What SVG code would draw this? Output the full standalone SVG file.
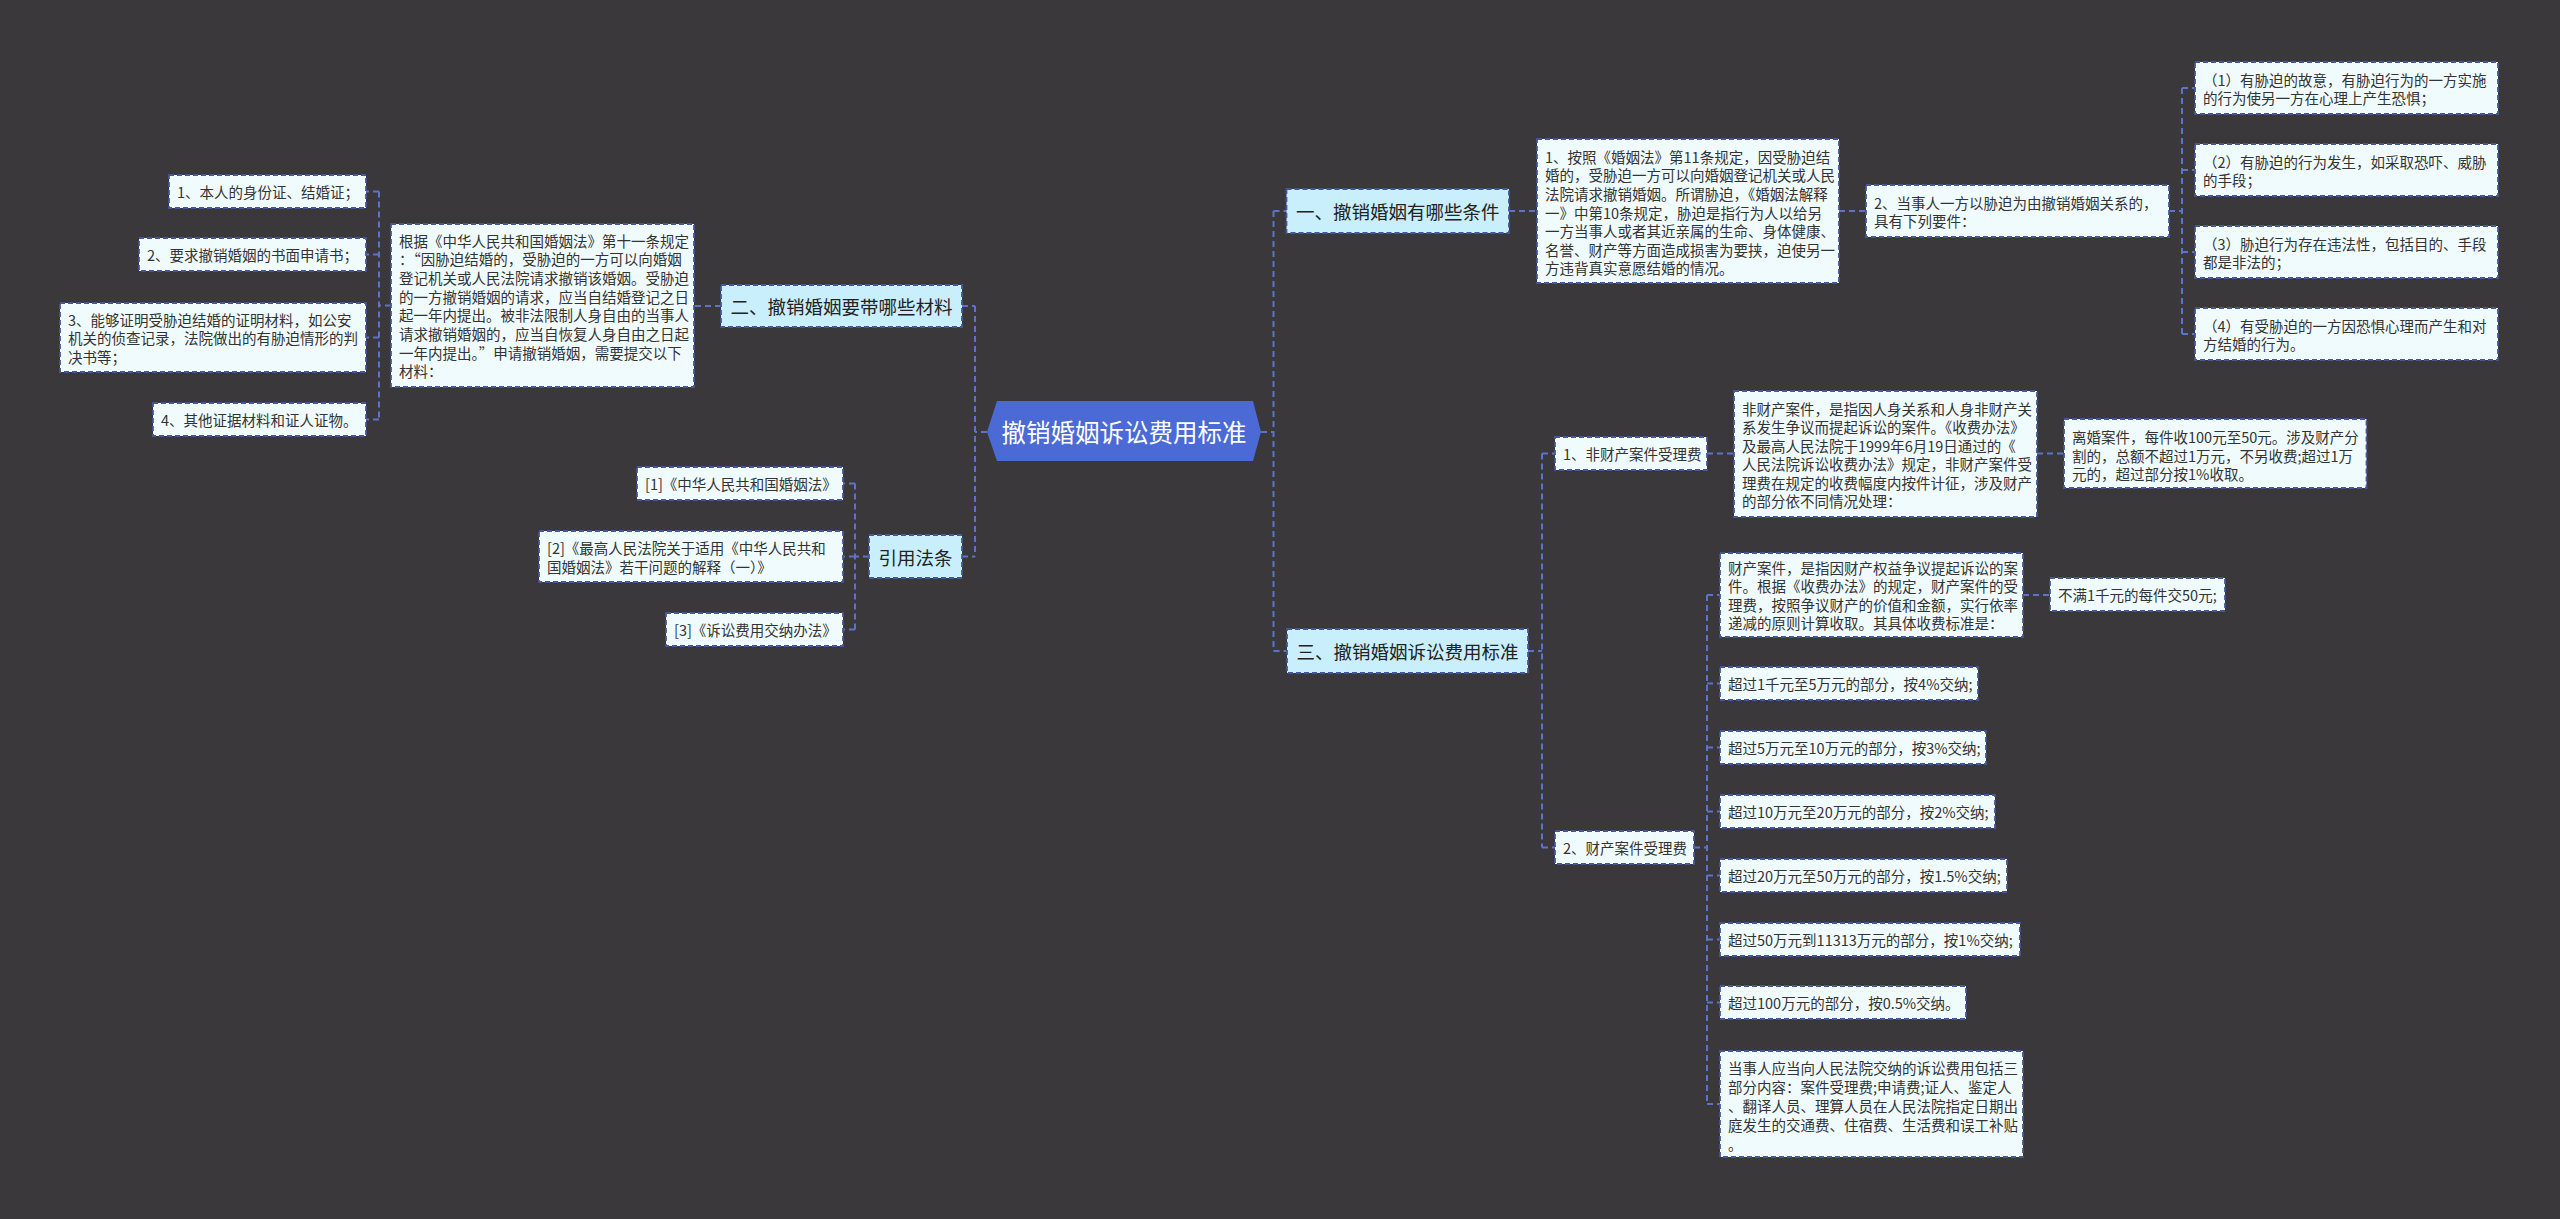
<svg xmlns="http://www.w3.org/2000/svg" width="2560" height="1219" viewBox="0 0 2560 1219">
<style>
.leaf{fill:#f0fbfd;stroke:#44579b;stroke-width:1.8;stroke-dasharray:5 3}
.l1{fill:#c9eefc;stroke:#44579b;stroke-width:1.8;stroke-dasharray:5 3}
.t{font-family:"Noto Sans CJK SC","Noto Sans",sans-serif;font-size:14.5px;fill:#333;dominant-baseline:central}
.t1{font-family:"Noto Sans CJK SC","Noto Sans",sans-serif;font-size:18.5px;fill:#222;dominant-baseline:central;text-anchor:middle}
.tc{font-family:"Noto Sans CJK SC","Noto Sans",sans-serif;font-size:24.5px;fill:#fff;dominant-baseline:central;text-anchor:middle}
.conn{fill:none;stroke:#5b74c8;stroke-width:2;stroke-dasharray:6 4}
</style>
<rect width="2560" height="1219" fill="#3a383b"/>
<g id="connectors" class="conn">
<path d="M975 306V556.5M987 432H975M962 306H975M962 556.5H975M721 306H694M391 305.5H379M379 191.5V419.5M379 191.5H366M379 254.5H366M379 337.5H366M379 419.5H366M869 556.5H855M855 483.5V629.5M855 483.5H843M855 556.5H843M855 629.5H843"/>
<path d="M1261 432H1273.5M1273.5 211V651M1273.5 211H1286.5M1273.5 651H1287M1509 211H1537M1839 211H1866M2169 211H2182M2182 88V334M2182 88H2195M2182 170H2195M2182 252H2195M2182 334H2195"/>
<path d="M1528 651H1542M1542 453.5V847.5M1542 453.5H1555M1542 847.5H1555M1707 453.5H1734M2037 453.5H2064M1694 847.5H1707M1707 595V1104M1707 595H1720M1707 683.5H1720M1707 747.5H1720M1707 811.5H1720M1707 875.5H1720M1707 939.5H1720M1707 1002.5H1720M1707 1104H1720M2023 595H2050"/>
</g>
<g id="root">
<polygon points="987,432 997,401 1253,401 1261,432 1253,461 997,461" fill="#4b6ad6"/>
<text class="tc" x="1124" y="431">撤销婚姻诉讼费用标准</text>
</g>
<g id="n2">
<rect class="l1" x="721" y="285" width="241" height="42"/>
<text class="t1" x="841.5" y="306">二、撤销婚姻要带哪些材料</text>
</g>
<g id="n2-detail">
<rect class="leaf" x="391" y="224" width="303" height="163"/>
<text class="t" x="399" y="240">根据《中华人民共和国婚姻法》第十一条规定</text>
<text class="t" x="399" y="258.7">：“因胁迫结婚的，受胁迫的一方可以向婚姻</text>
<text class="t" x="399" y="277.3">登记机关或人民法院请求撤销该婚姻。受胁迫</text>
<text class="t" x="399" y="296">的一方撤销婚姻的请求，应当自结婚登记之日</text>
<text class="t" x="399" y="314.7">起一年内提出。被非法限制人身自由的当事人</text>
<text class="t" x="399" y="333.3">请求撤销婚姻的，应当自恢复人身自由之日起</text>
<text class="t" x="399" y="352">一年内提出。”申请撤销婚姻，需要提交以下</text>
<text class="t" x="399" y="370.7">材料：</text>
</g>
<g id="m1"><rect class="leaf" x="169" y="175" width="197" height="33"/><text class="t" x="177" y="191.5">1、本人的身份证、结婚证；</text></g>
<g id="m2"><rect class="leaf" x="139" y="238" width="227" height="33"/><text class="t" x="147" y="254.5">2、要求撤销婚姻的书面申请书；</text></g>
<g id="m3"><rect class="leaf" x="60" y="303" width="306" height="69"/>
<text class="t" x="68" y="319">3、能够证明受胁迫结婚的证明材料，如公安</text>
<text class="t" x="68" y="337.5">机关的侦查记录，法院做出的有胁迫情形的判</text>
<text class="t" x="68" y="356">决书等；</text></g>
<g id="m4"><rect class="leaf" x="153" y="403" width="213" height="33"/><text class="t" x="161" y="419.5">4、其他证据材料和证人证物。</text></g>
<g id="ref">
<rect class="l1" x="869" y="535" width="93" height="43"/>
<text class="t1" x="915.5" y="556.5">引用法条</text>
</g>
<g id="ref1"><rect class="leaf" x="637" y="467" width="206" height="33"/><text class="t" x="645" y="483.5">[1]《中华人民共和国婚姻法》</text></g>
<g id="ref2"><rect class="leaf" x="539" y="531" width="304" height="51"/>
<text class="t" x="547" y="547.5">[2]《最高人民法院关于适用《中华人民共和</text>
<text class="t" x="547" y="566">国婚姻法》若干问题的解释（一）》</text></g>
<g id="ref3"><rect class="leaf" x="666" y="613" width="177" height="33"/><text class="t" x="674" y="629.5">[3]《诉讼费用交纳办法》</text></g>
<g id="n1">
<rect class="l1" x="1286.5" y="189" width="222.5" height="44"/>
<text class="t1" x="1397.75" y="211">一、撤销婚姻有哪些条件</text>
</g>
<g id="n1-a">
<rect class="leaf" x="1537" y="139" width="302" height="144"/>
<text class="t" x="1545" y="156.2">1、按照《婚姻法》第11条规定，因受胁迫结</text>
<text class="t" x="1545" y="174.8">婚的，受胁迫一方可以向婚姻登记机关或人民</text>
<text class="t" x="1545" y="193.4">法院请求撤销婚姻。所谓胁迫，《婚姻法解释</text>
<text class="t" x="1545" y="212">一》中第10条规定，胁迫是指行为人以给另</text>
<text class="t" x="1545" y="230.6">一方当事人或者其近亲属的生命、身体健康、</text>
<text class="t" x="1545" y="249.2">名誉、财产等方面造成损害为要挟，迫使另一</text>
<text class="t" x="1545" y="267.8">方违背真实意愿结婚的情况。</text>
</g>
<g id="n1-b">
<rect class="leaf" x="1866" y="185" width="303" height="52"/>
<text class="t" x="1874" y="202">2、当事人一方以胁迫为由撤销婚姻关系的，</text>
<text class="t" x="1874" y="220.5">具有下列要件：</text>
</g>
<g id="c1"><rect class="leaf" x="2195" y="62" width="303" height="52"/>
<text class="t" x="2203" y="79">（1）有胁迫的故意，有胁迫行为的一方实施</text>
<text class="t" x="2203" y="97.5">的行为使另一方在心理上产生恐惧；</text></g>
<g id="c2"><rect class="leaf" x="2195" y="144" width="303" height="52"/>
<text class="t" x="2203" y="161">（2）有胁迫的行为发生，如采取恐吓、威胁</text>
<text class="t" x="2203" y="179.5">的手段；</text></g>
<g id="c3"><rect class="leaf" x="2195" y="226" width="303" height="52"/>
<text class="t" x="2203" y="243">（3）胁迫行为存在违法性，包括目的、手段</text>
<text class="t" x="2203" y="261.5">都是非法的；</text></g>
<g id="c4"><rect class="leaf" x="2195" y="308" width="303" height="52"/>
<text class="t" x="2203" y="325">（4）有受胁迫的一方因恐惧心理而产生和对</text>
<text class="t" x="2203" y="343.5">方结婚的行为。</text></g>
<g id="n3">
<rect class="l1" x="1287" y="629" width="241" height="44"/>
<text class="t1" x="1407.5" y="651">三、撤销婚姻诉讼费用标准</text>
</g>
<g id="f1"><rect class="leaf" x="1555" y="437" width="152" height="33"/><text class="t" x="1563" y="453.5">1、非财产案件受理费</text></g>
<g id="f1-a"><rect class="leaf" x="1734" y="391" width="303" height="126"/>
<text class="t" x="1742" y="408">非财产案件，是指因人身关系和人身非财产关</text>
<text class="t" x="1742" y="426.5">系发生争议而提起诉讼的案件。《收费办法》</text>
<text class="t" x="1742" y="445">及最高人民法院于1999年6月19日通过的《</text>
<text class="t" x="1742" y="463.5">人民法院诉讼收费办法》规定，非财产案件受</text>
<text class="t" x="1742" y="482">理费在规定的收费幅度内按件计征，涉及财产</text>
<text class="t" x="1742" y="500.5">的部分依不同情况处理：</text></g>
<g id="f1-b"><rect class="leaf" x="2064" y="419" width="302.5" height="69"/>
<text class="t" x="2072" y="436.5">离婚案件，每件收100元至50元。涉及财产分</text>
<text class="t" x="2072" y="455">割的，总额不超过1万元，不另收费;超过1万</text>
<text class="t" x="2072" y="473.5">元的，超过部分按1%收取。</text></g>
<g id="f2"><rect class="leaf" x="1555" y="831" width="139" height="33"/><text class="t" x="1563" y="847.5">2、财产案件受理费</text></g>
<g id="f2-a"><rect class="leaf" x="1720" y="553" width="303" height="84"/>
<text class="t" x="1728" y="567">财产案件，是指因财产权益争议提起诉讼的案</text>
<text class="t" x="1728" y="585.6">件。根据《收费办法》的规定，财产案件的受</text>
<text class="t" x="1728" y="604.2">理费，按照争议财产的价值和金额，实行依率</text>
<text class="t" x="1728" y="622.8">递减的原则计算收取。其具体收费标准是：</text></g>
<g id="f2-a1"><rect class="leaf" x="2050" y="578" width="175" height="33"/><text class="t" x="2058" y="594.5">不满1千元的每件交50元;</text></g>
<g id="f2-b"><rect class="leaf" x="1720" y="667" width="258" height="33"/><text class="t" x="1728" y="683.5">超过1千元至5万元的部分，按4%交纳;</text></g>
<g id="f2-c"><rect class="leaf" x="1720" y="731" width="266" height="33"/><text class="t" x="1728" y="747.5">超过5万元至10万元的部分，按3%交纳;</text></g>
<g id="f2-d"><rect class="leaf" x="1720" y="795" width="275" height="33"/><text class="t" x="1728" y="811.5">超过10万元至20万元的部分，按2%交纳;</text></g>
<g id="f2-e"><rect class="leaf" x="1720" y="859" width="287" height="33"/><text class="t" x="1728" y="875.5">超过20万元至50万元的部分，按1.5%交纳;</text></g>
<g id="f2-f"><rect class="leaf" x="1720" y="923" width="300" height="33"/><text class="t" x="1728" y="939.5">超过50万元到11313万元的部分，按1%交纳;</text></g>
<g id="f2-g"><rect class="leaf" x="1720" y="986" width="246" height="33"/><text class="t" x="1728" y="1002.5">超过100万元的部分，按0.5%交纳。</text></g>
<g id="f2-h"><rect class="leaf" x="1720" y="1051" width="303" height="106"/>
<text class="t" x="1728" y="1067">当事人应当向人民法院交纳的诉讼费用包括三</text>
<text class="t" x="1728" y="1086">部分内容：案件受理费;申请费;证人、鉴定人</text>
<text class="t" x="1728" y="1105">、翻译人员、理算人员在人民法院指定日期出</text>
<text class="t" x="1728" y="1124">庭发生的交通费、住宿费、生活费和误工补贴</text>
<text class="t" x="1728" y="1143">。</text></g>
</svg>
